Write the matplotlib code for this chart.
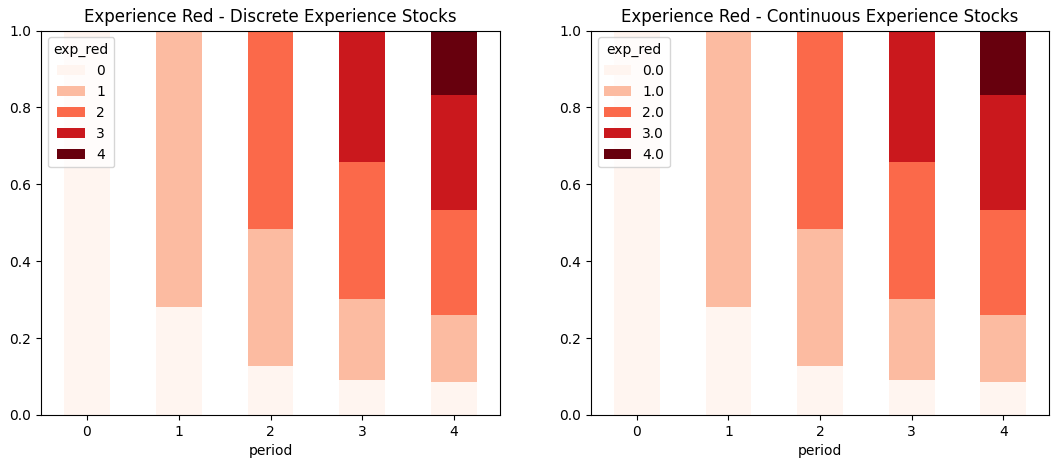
import numpy as np
import pandas as pd
import matplotlib
matplotlib.use("Agg")
import matplotlib.pyplot as plt

periods = [0, 1, 2, 3, 4]
exp_levels = [0, 1, 2, 3, 4]

# share of each experience level per period (columns = exp_red level)
share_0 = [1.000, 0.282, 0.128, 0.092, 0.087]
share_1 = [0.000, 0.718, 0.357, 0.210, 0.174]
share_2 = [0.000, 0.000, 0.515, 0.355, 0.271]
share_3 = [0.000, 0.000, 0.000, 0.343, 0.301]
share_4 = [0.000, 0.000, 0.000, 0.000, 0.167]

shares = [share_0, share_1, share_2, share_3, share_4]

df_discrete = pd.DataFrame(dict(zip(exp_levels, shares)), index=pd.Index(periods, name="period"))
df_discrete.columns.name = "exp_red"

df_cont = pd.DataFrame(dict(zip([float(e) for e in exp_levels], shares)), index=pd.Index(periods, name="period"))
df_cont.columns.name = "exp_red"

fig = plt.figure(figsize=(10.59, 4.68), dpi=100)
ax1 = fig.add_axes([41 / 1059, 53 / 468, 459 / 1059, 384.5 / 468])
ax2 = fig.add_axes([591 / 1059, 53 / 468, 458 / 1059, 384.5 / 468])

df_discrete.plot(kind="bar", stacked=True, colormap="Reds", ax=ax1, rot=0)
ax1.set_title("Experience Red - Discrete Experience Stocks")
ax1.set_ylim(0, 1)

df_cont.plot(kind="bar", stacked=True, colormap="Reds", ax=ax2, rot=0)
ax2.set_title("Experience Red - Continuous Experience Stocks")
ax2.set_ylim(0, 1)

fig.savefig("out.png", dpi=100)
